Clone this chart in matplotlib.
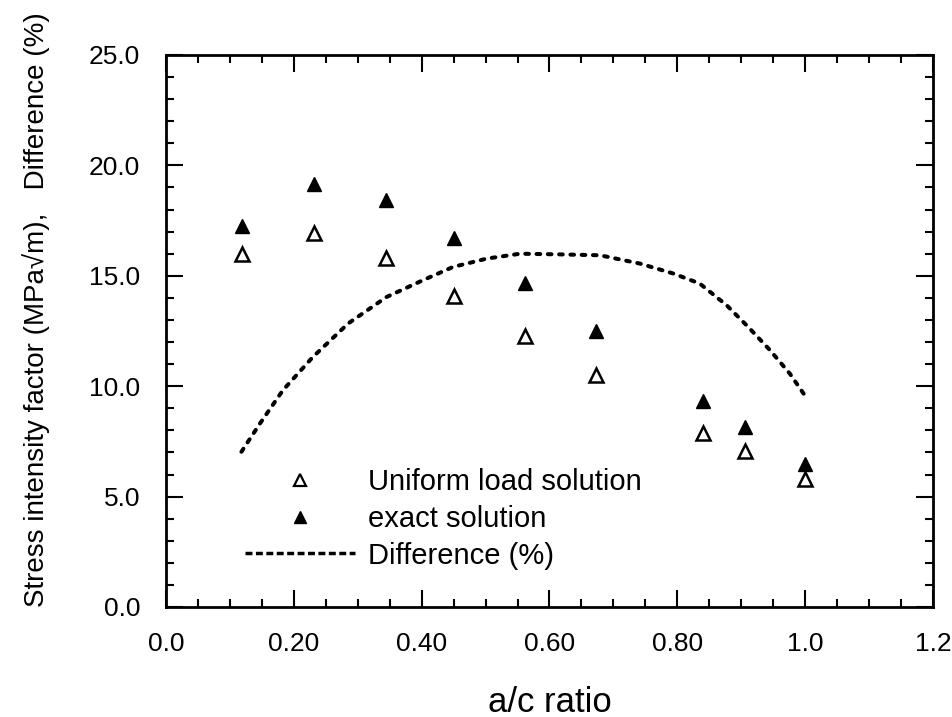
import numpy as np
import matplotlib
matplotlib.use("Agg")
import matplotlib.pyplot as plt
from matplotlib.lines import Line2D
from matplotlib.ticker import MultipleLocator, FixedLocator

plt.rcParams['font.family'] = ['Liberation Sans', 'DejaVu Sans']

# a/c ratio of each computed crack
ac_ratio = [0.119, 0.232, 0.344, 0.451, 0.561, 0.672, 0.840, 0.906, 1.0]
# stress intensity factor, MPa sqrt(m)
k_uniform = [16.0, 16.94, 15.8, 14.09, 12.28, 10.5, 7.9, 7.07, 5.78]
k_exact = [17.24, 19.14, 18.42, 16.71, 14.67, 12.5, 9.33, 8.16, 6.46]

# difference curve
diff_x = [0.118, 0.147, 0.183, 0.230, 0.285, 0.345, 0.402, 0.449, 0.502,
          0.554, 0.616, 0.679, 0.742, 0.794, 0.835, 0.877, 0.911, 0.945,
          0.976, 1.0]
diff_y = [7.03, 8.31, 9.82, 11.33, 12.84, 14.04, 14.80, 15.40, 15.78,
          16.00, 15.97, 15.93, 15.55, 15.10, 14.65, 13.67, 12.68, 11.63,
          10.57, 9.56]

x_ticks = [0.0, 0.2, 0.4, 0.6, 0.8, 1.0, 1.2]
x_labels = ['0.0', '0.20', '0.40', '0.60', '0.80', '1.0', '1.2']
y_ticks = [0, 5, 10, 15, 20, 25]
y_labels = ['0.0', '5.0', '10.0', '15.0', '20.0', '25.0']

fig = plt.figure(figsize=(9.53, 7.17), dpi=100)
ax = fig.add_axes([166/953, 1 - 607/717, 767/953, 552/717])

dots = (0, (0.9, 1.9))
ax.plot(diff_x, diff_y, color='black', lw=2.9, linestyle=dots,
        dash_capstyle='round', solid_joinstyle='round')
ax.plot(ac_ratio, k_uniform, linestyle='none', marker='^', ms=9.5,
        mfc='white', mec='black', mew=1.8)
ax.plot(ac_ratio, k_exact, linestyle='none', marker='^', ms=10.5,
        mfc='black', mec='black')

ax.set_xlim(0, 1.2)
ax.set_ylim(0, 25)
ax.xaxis.set_major_locator(FixedLocator(x_ticks))
ax.set_xticklabels(x_labels)
ax.xaxis.set_minor_locator(MultipleLocator(0.05))
ax.yaxis.set_major_locator(FixedLocator(y_ticks))
ax.set_yticklabels(y_labels)
ax.yaxis.set_minor_locator(MultipleLocator(1))

ax.tick_params(which='both', direction='in', top=True, right=True,
               width=1.5, labelsize=19)
ax.tick_params(which='major', length=12)
ax.tick_params(which='minor', length=6)
ax.tick_params(axis='x', pad=18)
ax.tick_params(axis='y', pad=18.5)
for s in ax.spines.values():
    s.set_linewidth(2)

ax.set_xlabel('a/c ratio', fontsize=25)
ax.xaxis.set_label_coords(0.5, -0.143)
ax.set_ylabel('Stress intensity factor (MPa\u221am),   Difference (%)',
              fontsize=20)
ax.yaxis.set_label_coords(-0.151, 0.539)

handles = [
    Line2D([], [], linestyle='none', marker='^', ms=8, mfc='white',
           mec='black', mew=1.6),
    Line2D([], [], linestyle='none', marker='^', ms=9, mfc='black',
           mec='black'),
    Line2D([], [], color='black', lw=2.5, linestyle=(0, (2.0, 1.0)),
           dash_capstyle='butt'),
]
labels = ['Uniform load solution', 'exact solution', 'Difference (%)']
ax.legend(handles, labels, loc='upper left',
          bbox_to_anchor=((245 - 166) / 767, (607 - 468) / 552),
          frameon=False, fontsize=21, handlelength=3.77, handletextpad=0.45,
          labelspacing=0.3, borderpad=0, borderaxespad=0)

fig.savefig('out.png', dpi=100)
